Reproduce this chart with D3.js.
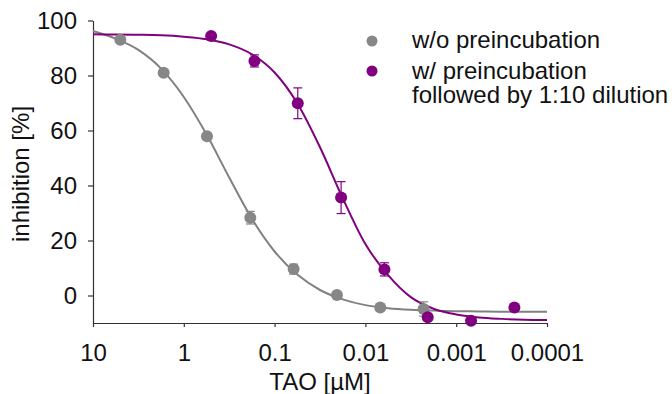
<!DOCTYPE html>
<html>
<head>
<meta charset="utf-8">
<script src="https://cdn.jsdelivr.net/npm/d3@7"></script>
<style>
  body { margin: 0; background: #fff; }
  text { font-family: "Liberation Sans", Arial, sans-serif; fill: #111; }
</style>
</head>
<body>
<svg id="chart" width="672" height="394"></svg>
<script>
// concentrations (uM), 3-fold dilution series
const grayConc = [5, 1.667, 0.5556, 0.1852, 0.06173, 0.02058, 0.006859, 0.002286];
const grayVal = [93.0, 81.0, 57.9, 28.3, 9.6, 0.2, -4.4, -4.9];
const grayErr = [0.8, 1.0, 1.0, 2.3, 1.8, 1.0, 1.0, 2.6];

const purpleConc = [0.5, 0.1667, 0.05556, 0.01852, 0.006173, 0.002058, 0.0006859, 0.0002286];
const purpleVal = [94.4, 85.3, 69.9, 35.6, 9.5, -7.9, -9.2, -4.4];
const purpleErr = [1.0, 2.2, 5.6, 5.8, 2.4, 1.0, 0.5, 1.0];

// fitted dose-response curves
const fitConc = [10, 5.623, 3.162, 1.778, 1, 0.5623, 0.3162, 0.1778, 0.1, 0.05623, 0.03162,
                 0.01778, 0.01, 0.005623, 0.003162, 0.001778, 0.001, 0.0005623, 0.0003162, 0.0001778, 0.0001];
const grayFit = [96.2, 93.4, 89.3, 82.5, 72.2, 58.6, 42.9, 27.9, 16.0, 7.6, 2.0, -1.4, -3.5,
                 -4.6, -5.2, -5.5, -5.7, -5.8, -5.9, -5.9, -5.9];
const purpleFit = [95.0, 94.9, 94.8, 94.6, 94.1, 93.2, 91.3, 87.7, 81.1, 69.9, 53.9, 35.4, 18.7,
                   7.4, -0.6, -4.8, -6.9, -8.0, -8.5, -8.8, -8.9];

const xTicks = [10, 1, 0.1, 0.01, 0.001, 0.0001];
const xTickLabels = ["10", "1", "0.1", "0.01", "0.001", "0.0001"];
const yTicks = [0, 20, 40, 60, 80, 100];

const grayColor = "#878787";
const grayLine = "#808080";
const purpleColor = "#800080";
const fontSize = 24;

function draw() {
    const svg = d3.select("#chart");

    const x = d3.scaleLog().domain([10, 0.0001]).range([93, 547]);
    const y = d3.scaleLinear().domain([-10, 100]).range([323, 20.5]);

    // axes
    const xAxis = svg.append("g")
        .attr("transform", "translate(0,323)")
        .call(d3.axisBottom(x)
            .tickValues(xTicks)
            .tickFormat((d, i) => xTickLabels[i])
            .tickSize(4)
            .tickSizeOuter(0));
    xAxis.selectAll("text")
        .attr("y", 21)
        .attr("dy", "0.71em")
        .style("font-size", fontSize + "px");

    const yAxis = svg.append("g")
        .attr("transform", "translate(93,0)")
        .call(d3.axisLeft(y)
            .tickValues(yTicks)
            .tickSize(5)
            .tickSizeOuter(0));
    yAxis.selectAll("text")
        .attr("x", -16)
        .style("font-size", fontSize + "px");

    svg.selectAll(".domain, .tick line").attr("stroke", "#333").attr("stroke-width", 1.2);
    svg.selectAll(".tick text").attr("fill", "#111").style("font-family", "'Liberation Sans', Arial, sans-serif");

    // axis titles
    svg.append("text")
        .attr("x", 320)
        .attr("y", 390)
        .attr("text-anchor", "middle")
        .style("font-size", fontSize + "px")
        .text("TAO [µM]");

    svg.append("text")
        .attr("transform", "translate(29,174) rotate(-90)")
        .attr("text-anchor", "middle")
        .style("font-size", fontSize + "px")
        .text("inhibition [%]");

    // fit lines
    const line = d3.line()
        .x(d => x(d[0]))
        .y(d => y(d[1]))
        .curve(d3.curveMonotoneX);

    svg.append("path")
        .attr("d", line(fitConc.map((c, i) => [c, grayFit[i]])))
        .attr("fill", "none")
        .attr("stroke", grayLine)
        .attr("stroke-width", 2);

    svg.append("path")
        .attr("d", line(fitConc.map((c, i) => [c, purpleFit[i]])))
        .attr("fill", "none")
        .attr("stroke", purpleColor)
        .attr("stroke-width", 2);

    // points with error bars
    const series = [
        { conc: grayConc, val: grayVal, err: grayErr, color: grayColor },
        { conc: purpleConc, val: purpleVal, err: purpleErr, color: purpleColor }
    ];

    series.forEach(s => {
        const pts = s.conc.map((c, i) => ({ c: c, v: s.val[i], e: s.err[i] }));
        const g = svg.append("g");
        const bars = g.selectAll(".err").data(pts).enter().append("g")
            .attr("stroke", s.color)
            .attr("stroke-width", 1.2);
        bars.append("line")
            .attr("x1", d => x(d.c)).attr("x2", d => x(d.c))
            .attr("y1", d => y(d.v - d.e)).attr("y2", d => y(d.v + d.e));
        bars.append("line")
            .attr("x1", d => x(d.c) - 4.5).attr("x2", d => x(d.c) + 4.5)
            .attr("y1", d => y(d.v + d.e)).attr("y2", d => y(d.v + d.e));
        bars.append("line")
            .attr("x1", d => x(d.c) - 4.5).attr("x2", d => x(d.c) + 4.5)
            .attr("y1", d => y(d.v - d.e)).attr("y2", d => y(d.v - d.e));
        g.selectAll("circle").data(pts).enter().append("circle")
            .attr("cx", d => x(d.c))
            .attr("cy", d => y(d.v))
            .attr("r", 6)
            .attr("fill", s.color);
    });

    // legend
    const legend = svg.append("g");
    legend.append("circle").attr("cx", 372).attr("cy", 41).attr("r", 5.5).attr("fill", grayColor);
    legend.append("circle").attr("cx", 372).attr("cy", 71).attr("r", 5.5).attr("fill", purpleColor);
    legend.append("text").attr("x", 412).attr("y", 48).style("font-size", fontSize + "px")
        .text("w/o preincubation");
    legend.append("text").attr("x", 412).attr("y", 78.5).style("font-size", fontSize + "px")
        .text("w/ preincubation");
    legend.append("text").attr("x", 412).attr("y", 103).style("font-size", fontSize + "px")
        .text("followed by 1:10 dilution");
}

draw();
</script>
</body>
</html>
